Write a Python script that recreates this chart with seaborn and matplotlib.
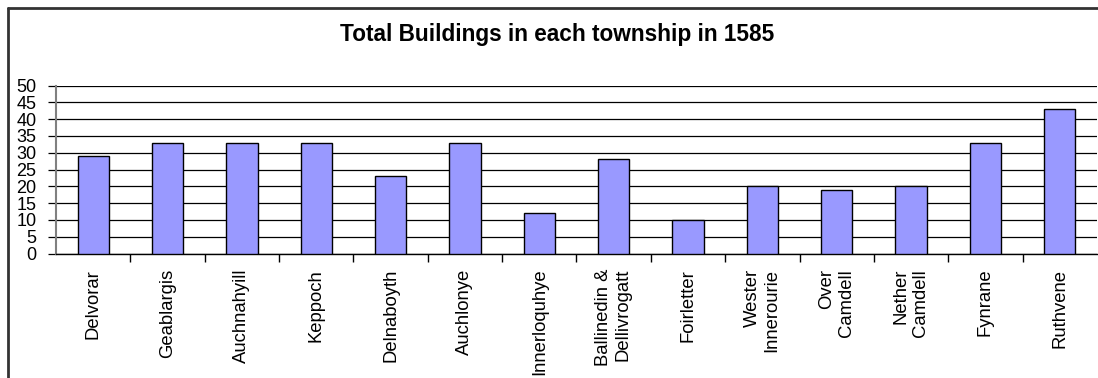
import matplotlib
matplotlib.use("Agg")
import matplotlib.pyplot as plt
from matplotlib.lines import Line2D
from matplotlib.ticker import FixedLocator, MultipleLocator
import seaborn as sns
import pandas as pd
import numpy as np

townships = [
    "Delvorar", "Geablargis", "Auchnahyill", "Keppoch", "Delnaboyth",
    "Auchlonye", "Innerloquhye", "Ballinedin &\nDellivrogatt", "Foirletter",
    "Wester\nInnerourie", "Over\nCamdell", "Nether\nCamdell", "Fynrane", "Ruthvene",
]
buildings = [29, 33, 33, 33, 23, 33, 12, 28, 10, 20, 19, 20, 33, 43]

df = pd.DataFrame({"township": townships, "buildings": buildings})

sns.set_theme(style="white")
plt.rcParams["font.family"] = ["Liberation Sans", "DejaVu Sans"]
plt.rcParams["text.color"] = "black"
plt.rcParams["xtick.color"] = "black"
plt.rcParams["ytick.color"] = "black"

fig = plt.figure(figsize=(10.98, 3.78), dpi=100)
ax = fig.add_axes([56 / 1098, 1 - 253.5 / 378, 1041 / 1098, 168 / 378])

sns.barplot(data=df, x="township", y="buildings", color="#9999FF",
            edgecolor="black", linewidth=1.0, width=0.42, saturation=1,
            ax=ax, zorder=3)

ax.set_xlim(-0.5, len(townships) - 0.5)
ax.set_ylim(0, 50)
ax.yaxis.set_major_locator(MultipleLocator(5))
ax.grid(axis="y", color="black", linewidth=0.9, zorder=0)
ax.set_axisbelow(True)

ax.set_xlabel("")
ax.set_ylabel("")

# category labels at bar centres, tick marks at category boundaries
ax.set_xticks(range(len(townships)))
ax.set_xticklabels(townships, rotation=90, ha="center", va="top",
                   multialignment="right", fontsize=13.3, color="black")
ax.tick_params(axis="x", which="major", length=0, pad=11)
ax.xaxis.set_minor_locator(FixedLocator(np.arange(0.5, len(townships) - 0.5, 1)))
ax.tick_params(axis="x", which="minor", length=6, width=1, color="black",
               direction="out", bottom=True)

ax.tick_params(axis="y", which="major", length=6, width=0.9, color="black",
               labelcolor="black", direction="out", left=True, labelsize=13, pad=8)

for side in ("top", "right"):
    ax.spines[side].set_visible(False)
ax.spines["left"].set_color("#808080")
ax.spines["left"].set_linewidth(1.5)
ax.spines["bottom"].set_color("black")
ax.spines["bottom"].set_linewidth(1.0)

fig.text(557 / 1098, 1 - 34 / 378, "Total Buildings in each township in 1585",
         ha="center", va="center", fontsize=16.3, fontweight="bold", color="black")

# outer chart frame (left and top edges)
fig.add_artist(Line2D([8 / 1098, 8 / 1098], [0, 1 - 7.5 / 378],
                      transform=fig.transFigure, color="#333333", linewidth=2))
fig.add_artist(Line2D([8 / 1098, 1], [1 - 7.5 / 378, 1 - 7.5 / 378],
                      transform=fig.transFigure, color="#333333", linewidth=2))

fig.savefig("out.png", dpi=100)
